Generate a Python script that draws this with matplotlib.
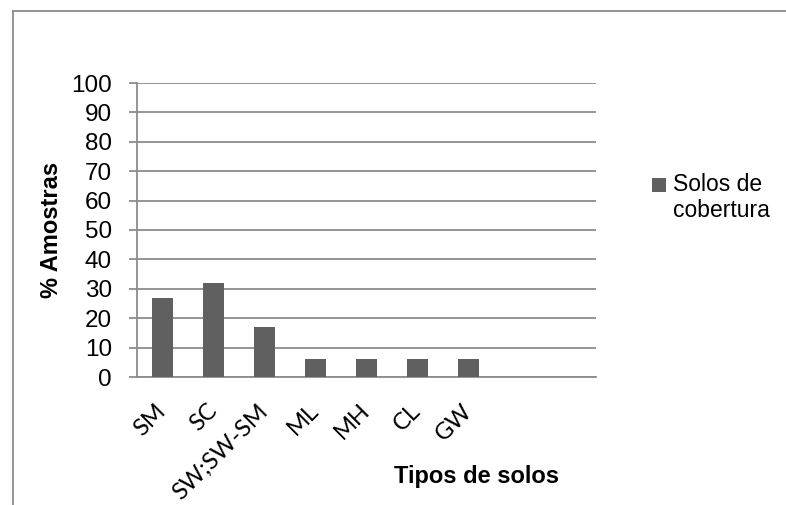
import matplotlib
matplotlib.use("Agg")
import matplotlib.pyplot as plt
from matplotlib.lines import Line2D
from matplotlib.patches import Rectangle
from matplotlib.legend_handler import HandlerPatch

categories = ["SM", "SC", "SW;SW-SM", "ML", "MH", "CL", "GW", "", ""]
values = [27, 32, 17, 6, 6, 6, 6, None, None]
series_name = "Solos de\ncobertura"
yticks = [0, 10, 20, 30, 40, 50, 60, 70, 80, 90, 100]

fig = plt.figure(figsize=(7.86, 5.05), dpi=100)
ax = fig.add_axes([137/786, 1 - 377/505, (596-137)/786, (377-83)/505])

xs = list(range(len(categories)))
bx = [x for x, v in zip(xs, values) if v is not None]
bv = [v for v in values if v is not None]
bars = ax.bar(bx, bv, width=0.4, color="#606060", zorder=3, label=series_name)

ax.set_xlim(-0.5, len(categories) - 0.5)
ax.set_ylim(0, 100)
ax.set_yticks(yticks)
ax.set_yticklabels([str(t) for t in yticks], fontsize=17.5, family="Liberation Sans")
ax.yaxis.grid(True, color="#8c8c8c", linewidth=1.3, zorder=0)
ax.set_axisbelow(True)
for s in ["top", "right"]:
    ax.spines[s].set_visible(False)
for s in ["left", "bottom"]:
    ax.spines[s].set_color("#8c8c8c")
    ax.spines[s].set_linewidth(1.3)
ax.tick_params(axis="y", length=6, width=1.3, color="#8c8c8c", pad=12)
ax.tick_params(axis="x", length=0, pad=22)
ax.set_xticks(xs)
ax.set_xticklabels(categories, rotation=45, ha="right", va="center",
                   rotation_mode="anchor", fontsize=17, family="Lato")

ax.set_ylabel("% Amostras", fontsize=17, fontweight="bold", family="Liberation Sans")
ax.yaxis.set_label_coords((63 - 137) / 459, 0.5)
fig.text(477/786, 1 - 477/505, "Tipos de solos", fontsize=17, fontweight="bold",
         family="Liberation Sans", ha="center", va="center")


def top_square(legend, orig_handle, xdescent, ydescent, width, height, fontsize):
    size = fontsize * 0.6
    return Rectangle((-xdescent + width - size, -ydescent + height / 2 + fontsize * 0.6 - size / 2),
                     size, size)


leg = fig.legend(handles=[bars.patches[0]], labels=[series_name], loc="upper left",
                 bbox_to_anchor=(627/786, 1 - 152/505), frameon=False,
                 prop={"family": "Liberation Sans", "size": 16.5},
                 handlelength=0.8, handleheight=0.75, handletextpad=0.3,
                 handler_map={Rectangle: HandlerPatch(patch_func=top_square)})

# chart border (top and left visible)
fig.add_artist(Line2D([12.5/786, 1], [1 - 10.5/505, 1 - 10.5/505], color="#8c8c8c", linewidth=1.3, transform=fig.transFigure))
fig.add_artist(Line2D([12.5/786, 12.5/786], [0, 1 - 10.5/505], color="#8c8c8c", linewidth=1.3, transform=fig.transFigure))

fig.savefig("out.png", dpi=100)
